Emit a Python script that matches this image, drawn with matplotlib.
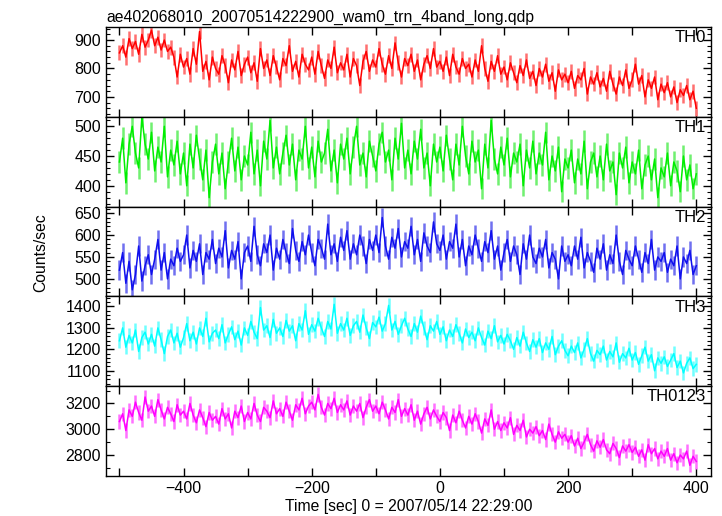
import numpy as np
import matplotlib
matplotlib.use("Agg")
import matplotlib.pyplot as plt
from matplotlib.ticker import MultipleLocator, AutoMinorLocator, FuncFormatter

plt.rcParams['font.family'] = ['Liberation Sans', 'DejaVu Sans']

# time bins (sec from 2007/05/14 22:29:00), 5 s spacing
t_start, t_stop, t_step = -500, 400, 5

# count rates, 10 bins (50 s) per row
th0 = [
    855, 880, 840, 905, 870, 895, 850, 920, 875, 900,
    935, 880, 910, 865, 900, 860, 875, 840, 770, 850,
    805, 835, 780, 870, 815, 930, 790, 825, 760, 840,
    800, 780, 845, 810, 750, 830, 795, 860, 775, 815,
    840, 785, 820, 755, 870, 800, 830, 775, 845, 805,
    760, 835, 810, 880, 790, 825, 770, 850, 815, 795,
    840, 780, 860, 810, 765, 830, 800, 875, 785, 820,
    795, 850, 770, 835, 810, 740, 825, 860, 790, 830,
    805, 870, 815, 780, 845, 800, 890, 820, 770, 835,
    810, 850, 790, 830, 760, 815, 845, 800, 870, 805,
    825, 790, 840, 775, 850, 805, 780, 835, 800, 815,
    770, 830, 790, 880, 800, 755, 825, 790, 845, 780,
    805, 760, 820, 785, 750, 810, 775, 830, 765, 790,
    740, 800, 770, 815, 755, 785, 720, 795, 760, 780,
    750, 790, 730, 775, 760, 800, 710, 770, 745, 785,
    735, 765, 720, 790, 745, 710, 770, 740, 795, 730,
    760, 815, 745, 775, 700, 760, 730, 770, 690, 745,
    715, 750, 700, 735, 680, 725, 705, 740, 690, 720,
    660,
]
th1 = [
    440, 480, 405, 470, 500, 455, 430, 516, 470, 445,
    490, 425, 465, 440, 500, 415, 460, 435, 475, 420,
    455, 400, 470, 430, 485, 445, 410, 460, 380, 440,
    470, 420, 455, 395, 440, 480, 425, 465, 410, 450,
    435, 490, 420, 460, 400, 475, 445, 510, 430, 465,
    420, 455, 485, 435, 470, 410, 460, 445, 500, 430,
    465, 415, 475, 440, 455, 495, 425, 460, 405, 470,
    445, 480, 420, 465, 500, 435, 455, 415, 475, 450,
    425, 470, 490, 440, 460, 410, 480, 445, 505, 430,
    460, 420, 475, 445, 495, 430, 455, 400, 470, 440,
    465, 425, 485, 445, 410, 470, 435, 500, 450, 420,
    475, 440, 460, 395, 470, 430, 510, 445, 420, 465,
    435, 480, 415, 455, 440, 470, 400, 460, 430, 475,
    420, 455, 435, 490, 410, 450, 425, 465, 390, 445,
    430, 460, 405, 445, 420, 475, 395, 440, 455, 415,
    450, 410, 470, 425, 440, 385, 455, 430, 465, 405,
    440, 420, 460, 395, 435, 450, 410, 445, 380, 430,
    415, 455, 400, 440, 425, 390, 450, 410, 435, 395,
    420,
]
th2 = [
    520, 560, 490, 540, 475, 510, 575, 495, 530, 555,
    510, 545, 590, 520, 560, 500, 545, 530, 570, 540,
    555, 600, 525, 565, 540, 580, 510, 560, 545, 590,
    535, 570, 550, 610, 525, 565, 545, 585, 500, 560,
    575, 540, 620, 555, 530, 580, 560, 600, 520, 570,
    545, 590, 560, 535, 615, 565, 540, 585, 555, 600,
    560, 530, 590, 570, 545, 625, 555, 580, 540, 595,
    565, 610, 545, 580, 555, 600, 575, 535, 590, 565,
    600, 560, 640, 575, 545, 595, 570, 615, 550, 585,
    570, 620, 555, 590, 540, 605, 575, 560, 630, 580,
    565, 600, 545, 585, 570, 625, 550, 590, 530, 575,
    555, 600, 570, 540, 585, 560, 610, 545, 575, 520,
    560, 590, 540, 575, 555, 510, 580, 545, 600, 550,
    535, 570, 550, 590, 525, 560, 545, 500, 575, 540,
    555, 530, 575, 545, 595, 525, 560, 540, 515, 570,
    545, 580, 520, 555, 535, 600, 540, 510, 565, 545,
    530, 575, 545, 515, 560, 535, 590, 520, 550, 540,
    560, 515, 545, 530, 575, 500, 550, 535, 565, 510,
    530,
]
th3 = [
    1240, 1300, 1210, 1265, 1230, 1290, 1190, 1255, 1280, 1225,
    1270, 1215, 1300, 1245, 1180, 1260, 1290, 1230, 1275, 1210,
    1255, 1320, 1240, 1280, 1225, 1300, 1260, 1345, 1235, 1275,
    1290, 1250, 1315, 1230, 1270, 1305, 1245, 1285, 1220, 1300,
    1265, 1330, 1280, 1250, 1395, 1290, 1310, 1255, 1340, 1275,
    1300, 1260, 1335, 1285, 1310, 1240, 1320, 1290, 1380, 1270,
    1315, 1285, 1345, 1300, 1260, 1330, 1295, 1410, 1275, 1320,
    1290, 1345, 1265, 1310, 1330, 1280, 1360, 1300, 1250, 1325,
    1305, 1350, 1285, 1320, 1405, 1290, 1330, 1270, 1310, 1345,
    1295, 1260, 1320, 1280, 1355, 1300, 1245, 1310, 1285, 1330,
    1270, 1305, 1240, 1290, 1260, 1315, 1275, 1230, 1295, 1255,
    1280, 1240, 1300, 1255, 1220, 1285, 1250, 1310, 1235, 1265,
    1225, 1270, 1240, 1200, 1255, 1215, 1280, 1230, 1190, 1245,
    1210, 1250, 1185, 1230, 1200, 1260, 1175, 1215, 1240, 1195,
    1170, 1215, 1185, 1230, 1160, 1200, 1250, 1180, 1145, 1195,
    1175, 1215, 1150, 1190, 1165, 1230, 1140, 1180, 1160, 1205,
    1150, 1185, 1130, 1170, 1210, 1145, 1175, 1100, 1160, 1135,
    1165, 1120, 1150, 1180, 1115, 1145, 1090, 1135, 1160, 1110,
    1130,
]
th0123 = [
    3060, 3120, 2990, 3150, 3100, 3210, 3130, 3070, 3250, 3140,
    3180, 3100, 3230, 3150, 3080, 3170, 3120, 3060, 3190, 3110,
    3140, 3080, 3200, 3110, 3050, 3150, 3090, 3020, 3130, 3070,
    3100, 3040, 3160, 3080, 3120, 3010, 3140, 3090, 3180, 3060,
    3130, 3080, 3200, 3110, 3060, 3170, 3140, 3090, 3220, 3120,
    3160, 3100, 3210, 3140, 3070, 3190, 3150, 3240, 3120, 3180,
    3210, 3150, 3270, 3170, 3110, 3200, 3160, 3240, 3130, 3190,
    3150, 3220, 3110, 3180, 3140, 3200, 3090, 3170, 3230, 3140,
    3180, 3120, 3210, 3150, 3080, 3170, 3130, 3230, 3100, 3160,
    3110, 3190, 3070, 3140, 3040, 3120, 3170, 3080, 3150, 3100,
    3060, 3130, 3090, 2990, 3110, 3050, 3140, 3070, 3010, 3100,
    3040, 3120, 3060, 2970, 3080, 3030, 3150, 3000, 3060, 2990,
    3050, 3010, 3090, 2960, 3030, 2990, 3070, 2940, 3000, 2970,
    3020, 2950, 2990, 2920, 3040, 2960, 2900, 2980, 2930, 2960,
    2900, 2950, 2870, 2930, 2850, 2900, 2960, 2880, 2830, 2910,
    2860, 2920, 2840, 2810, 2890, 2850, 2780, 2870, 2830, 2880,
    2820, 2860, 2790, 2840, 2760, 2880, 2810, 2850, 2770, 2830,
    2790, 2850, 2760, 2810, 2740, 2800, 2770, 2830, 2720, 2790,
    2750,
]

bands = ['TH0', 'TH1', 'TH2', 'TH3', 'TH0123']
rates = [th0, th1, th2, th3, th0123]
errors = [26, 18, 22, 34, 55]
colors = ['#ff0000', '#00ee00', '#1010ee', '#00ffff', '#ff00ff']
err_colors = ['#ff7070', '#70f070', '#7070f0', '#70ffff', '#ff70ff']
ylims = [(630, 946), (365, 516), (460, 665), (1028, 1447), (2637, 3334)]
ymajor = [100, 50, 50, 100, 200]
yminor_n = [5, 5, 5, 5, 2]

t = np.arange(t_start, t_stop + 1, t_step)

fig = plt.figure(figsize=(7.22, 5.16), dpi=100)
gs = fig.add_gridspec(5, 1, left=0.1468, right=0.9848, top=0.9477,
                      bottom=0.0775, hspace=0)

axes = []
for i, (name, y, e) in enumerate(zip(bands, rates, errors)):
    ax = fig.add_subplot(gs[i], sharex=axes[0] if axes else None)
    axes.append(ax)
    y = np.array(y)
    ax.vlines(t, y - e, y + e, color=err_colors[i], lw=1.8)
    ax.plot(t, y, color=colors[i], lw=1.1)
    ax.set_ylim(*ylims[i])
    ax.yaxis.set_major_locator(MultipleLocator(ymajor[i]))
    ax.yaxis.set_minor_locator(AutoMinorLocator(yminor_n[i]))
    ax.xaxis.set_major_locator(MultipleLocator(100))
    ax.tick_params(which='both', direction='in', top=True, right=True,
                   labelsize=11.5)
    ax.tick_params(which='major', length=6, width=1)
    ax.tick_params(which='minor', length=3, width=0.8)
    for sp in ax.spines.values():
        sp.set_linewidth(1.0)
    ax.text(0.992, 0.965, name, transform=ax.transAxes, ha='right', va='top',
            fontsize=12)
    if i < 4:
        ax.tick_params(labelbottom=False)

axes[0].set_xlim(-521, 423)
axes[-1].xaxis.set_major_formatter(
    FuncFormatter(lambda v, p: f"{v:.0f}".replace('-', '\u2212') if v % 200 == 0 else ''))

axes[0].set_title('ae402068010_20070514222900_wam0_trn_4band_long.qdp',
                  loc='left', fontsize=11.3, pad=4)
axes[-1].set_xlabel('Time [sec] 0 = 2007/05/14 22:29:00', fontsize=11.3,
                    labelpad=2)
fig.text(0.056, 0.51, 'Counts/sec', rotation=90, ha='center', va='center',
         fontsize=11.3)

fig.savefig('out.png', dpi=100)
